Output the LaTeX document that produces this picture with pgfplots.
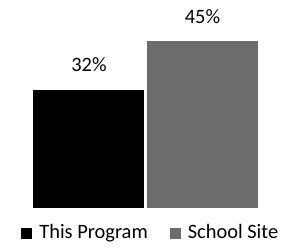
\documentclass[border=0pt]{standalone}
\usepackage{fontspec}
\setmainfont{Carlito}
\usepackage{pgfplots}
\pgfplotsset{compat=1.18}
\definecolor{sitegray}{HTML}{6C6C6C}
\begin{document}
\fontsize{20.5}{24}\selectfont
\begin{tikzpicture}
\begin{axis}[
 axis lines=none, ticks=none, clip=false,
 scale only axis, width=290bp, height=248bp,
 xmin=-0.784, xmax=1.771, ymin=-10.8, ymax=56.2,
 ybar, bar width=111bp, bar shift=0pt,
 /pgf/number format/assume math mode=true,
 nodes near coords={\pgfmathprintnumber{\pgfplotspointmeta}\%},
 every node near coord/.append style={anchor=south, inner sep=0pt, yshift=18bp, black, font=\fontsize{20.5}{24}\selectfont},
 legend style={at={(0.52,0.06)}, anchor=center, draw=none, fill=none, legend columns=2,
   /tikz/every odd column/.append style={column sep=5bp},
   /tikz/every even column/.append style={column sep=20bp}, font=\fontsize{20.5}{24}\selectfont},
 legend image code/.code={\fill[#1] (0bp,-5.5bp) rectangle (11bp,5.5bp);},
]
\addplot[fill=black, draw=none] coordinates {(0,32)};
\addplot[fill=sitegray, draw=none] coordinates {(1,45)};
\legend{This Program, School Site}
\end{axis}
\pgfresetboundingbox
\path[use as bounding box] (current axis.south west) rectangle (current axis.north east);
\end{tikzpicture}
\end{document}
